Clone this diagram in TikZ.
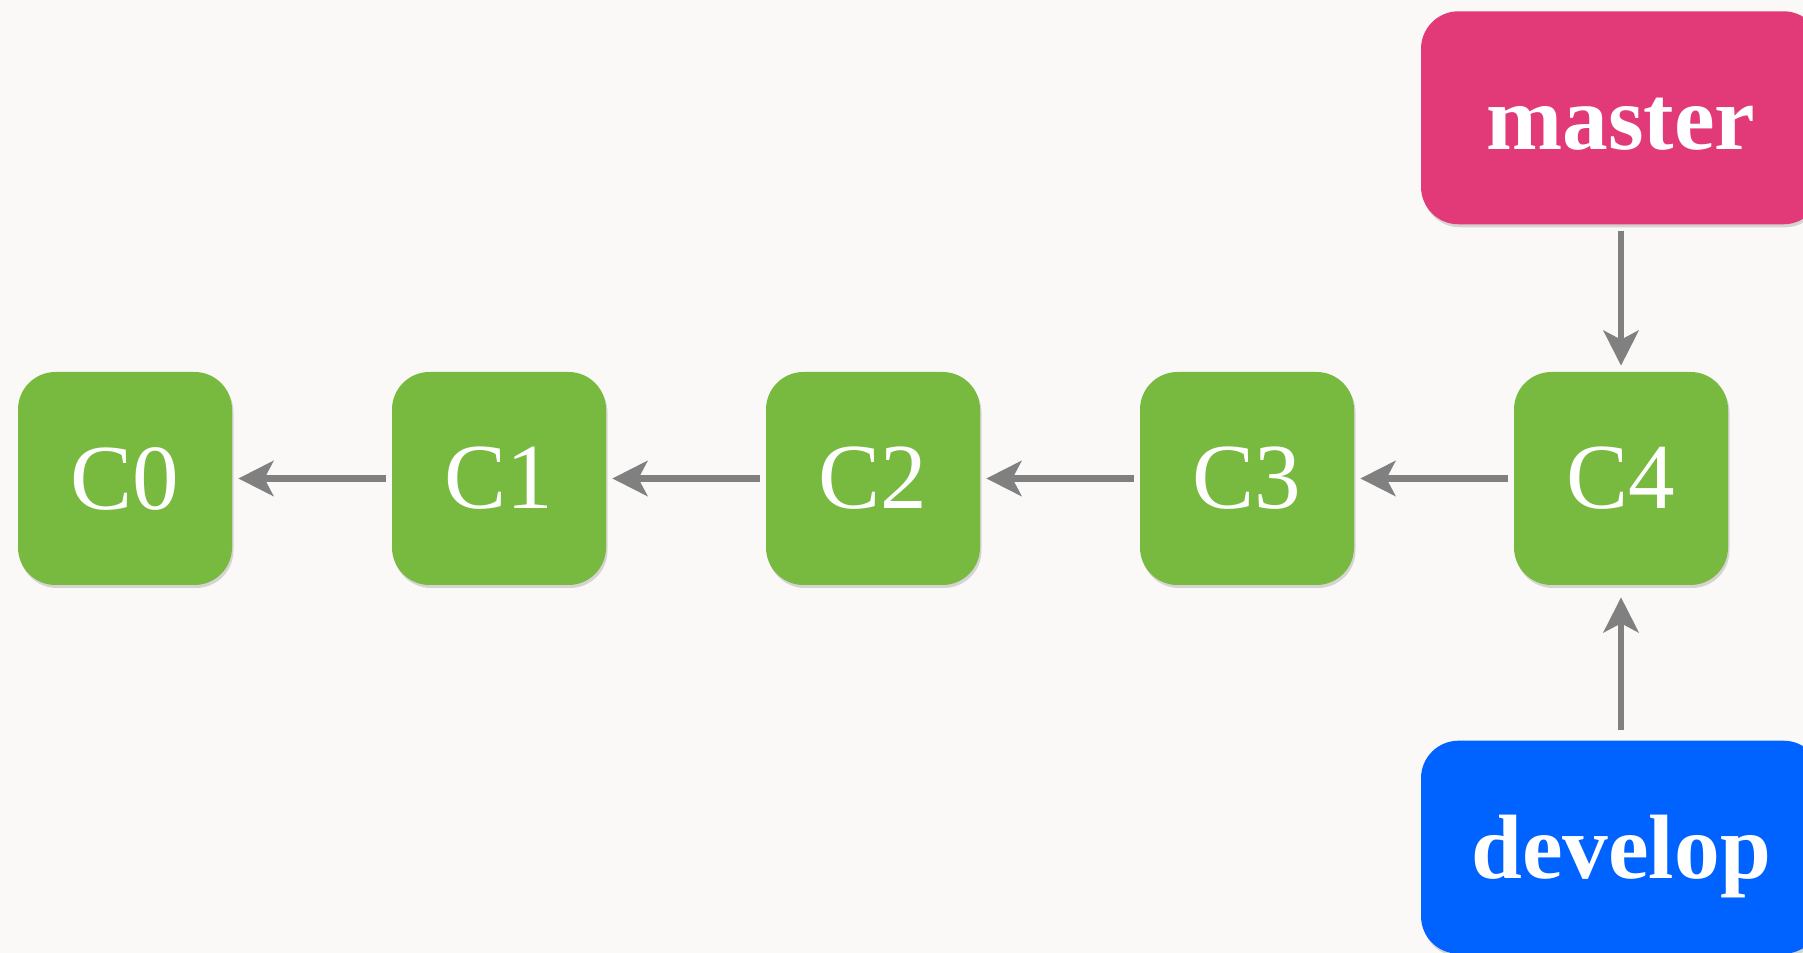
\documentclass[tikz,border=0pt]{standalone}
\usepackage{fontspec}
\setmainfont{Liberation Serif}
\usepackage{tikz}
\usetikzlibrary{arrows.meta,positioning,shadows}
\definecolor{bgcream}{RGB}{250,249,247}
\definecolor{commitgreen}{RGB}{119,186,63}
\definecolor{masterpink}{RGB}{226,58,120}
\definecolor{developblue}{RGB}{0,98,255}
\definecolor{arrowgray}{RGB}{128,128,128}
\tikzstyle{commit} = [rectangle, rounded corners=0.75cm, minimum width=4.28cm, minimum height=4.26cm, text centered, fill=commitgreen, text=white, font=\fontsize{53}{60}\selectfont, drop shadow={shadow xshift=0.03cm, shadow yshift=-0.06cm, opacity=0.3}]
\tikzstyle{branch} = [commit, minimum width=8cm, text height=1.26cm, text depth=0pt, font=\fontsize{52}{60}\selectfont\bfseries]
\tikzstyle{arrow} = [line width=0.13cm, -{Stealth[length=0.7cm,width=0.7cm,inset=0.18cm]}, color=arrowgray, shorten >=0.12cm, shorten <=0.12cm]

\begin{document}
\begin{tikzpicture}[node distance=3.186cm]
\useasboundingbox[fill=bgcream] (0,0) rectangle (36.06,19.06);
% Commit boxes
\node (c0) [commit] at (2.5,9.49) {C0};
\node (c1) [commit, right=of c0] {C1};
\node (c2) [commit, right=of c1] {C2};
\node (c3) [commit, right=of c2] {C3};
\node (c4) [commit, right=of c3] {C4};

% Branch labels
\node (master) [branch, above=2.94cm of c4, fill=masterpink] {master};
\node (develop) [branch, below=3.1cm of c4, fill=developblue] {develop};

% Arrows
\draw[arrow] (c1) -- (c0);
\draw[arrow] (c2) -- (c1);
\draw[arrow] (c3) -- (c2);
\draw[arrow] (c4) -- (c3);
\draw[arrow] (master) -- (c4);
\draw[arrow, shorten >=0.24cm, shorten <=0.2cm] (develop) -- (c4);
\end{tikzpicture}
\end{document}
